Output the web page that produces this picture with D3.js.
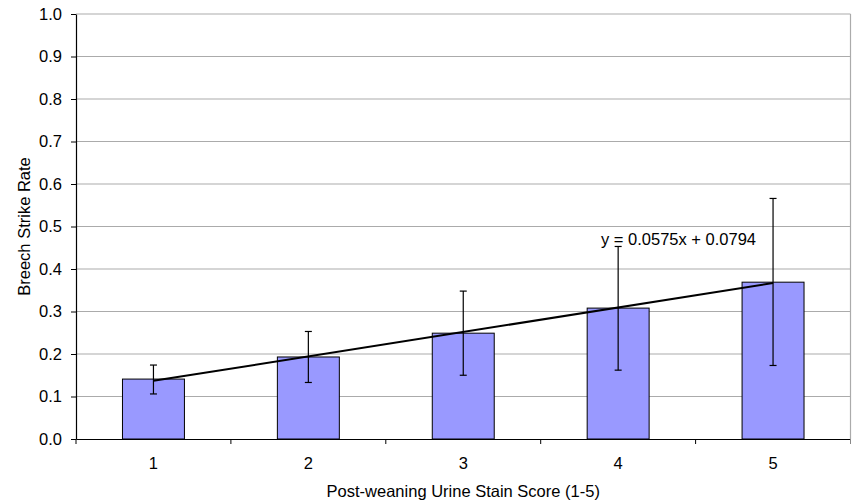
<!DOCTYPE html>
<html>
<head>
<meta charset="utf-8">
<script src="https://cdn.jsdelivr.net/npm/d3@7"></script>
<style>
  body { margin: 0; background: #fff; }
  text { font-family: "Liberation Sans", Arial, sans-serif; }
</style>
</head>
<body>
<svg id="chart"></svg>
<script>
// Data
const scores = ["1", "2", "3", "4", "5"];
const strikeRate = [0.141, 0.193, 0.249, 0.308, 0.369];
const errUpper = [0.174, 0.253, 0.348, 0.453, 0.566];
const errLower = [0.106, 0.133, 0.150, 0.162, 0.173];
const yTicks = [0.0, 0.1, 0.2, 0.3, 0.4, 0.5, 0.6, 0.7, 0.8, 0.9, 1.0];
const trendSlope = 0.0575;
const trendIntercept = 0.0794;

const width = 863;
const height = 502;
const margin = { top: 14, right: 12.5, bottom: 63, left: 76 };
const fontSize = "16.5px";

const svg = d3.select("#chart")
    .attr("width", width)
    .attr("height", height);

const x = d3.scaleBand()
    .domain(scores)
    .range([margin.left, width - margin.right])
    .padding(0);

const y = d3.scaleLinear()
    .domain([0, 1])
    .range([height - margin.bottom, margin.top]);

const barW = x.bandwidth() * 0.4;
const cx = d => x(d) + x.bandwidth() / 2;

// Gridlines
svg.append("g")
    .selectAll("line")
    .data(yTicks.filter(t => t > 0))
    .enter()
    .append("line")
    .attr("x1", margin.left)
    .attr("x2", width - margin.right)
    .attr("y1", d => y(d))
    .attr("y2", d => y(d))
    .attr("stroke", "#ababab")
    .attr("stroke-width", 1.2);

// Right border
svg.append("line")
    .attr("x1", width - margin.right)
    .attr("x2", width - margin.right)
    .attr("y1", y(1))
    .attr("y2", y(0))
    .attr("stroke", "#ababab")
    .attr("stroke-width", 1.2);

// Bars
svg.append("g")
    .selectAll("rect")
    .data(scores)
    .enter()
    .append("rect")
    .attr("x", d => cx(d) - barW / 2)
    .attr("y", (d, i) => y(strikeRate[i]))
    .attr("width", barW)
    .attr("height", (d, i) => y(0) - y(strikeRate[i]))
    .attr("fill", "#9999ff")
    .attr("stroke", "#000")
    .attr("stroke-width", 1);

// Trendline
svg.append("line")
    .attr("x1", cx(scores[0]))
    .attr("y1", y(trendSlope * 1 + trendIntercept))
    .attr("x2", cx(scores[4]))
    .attr("y2", y(trendSlope * 5 + trendIntercept))
    .attr("stroke", "#000")
    .attr("stroke-width", 2);

// Error bars
const eb = svg.append("g").attr("stroke", "#000").attr("stroke-width", 1.2);
scores.forEach((s, i) => {
    const c = cx(s);
    eb.append("line").attr("x1", c).attr("x2", c).attr("y1", y(errUpper[i])).attr("y2", y(errLower[i]));
    eb.append("line").attr("x1", c - 3.5).attr("x2", c + 3.5).attr("y1", y(errUpper[i])).attr("y2", y(errUpper[i]));
    eb.append("line").attr("x1", c - 3.5).attr("x2", c + 3.5).attr("y1", y(errLower[i])).attr("y2", y(errLower[i]));
});

// Y axis
const yAxis = svg.append("g")
    .attr("transform", `translate(${margin.left},0)`)
    .call(d3.axisLeft(y).tickValues(yTicks).tickFormat(d3.format(".1f")).tickSize(5).tickSizeOuter(0));
yAxis.select(".domain").attr("stroke", "#000").attr("stroke-width", 1.2);
yAxis.selectAll(".tick line").attr("stroke", "#000");
yAxis.selectAll(".tick text")
    .attr("x", -14)
    .style("font-size", fontSize)
    .style("font-family", "Liberation Sans, Arial, sans-serif")
    .attr("fill", "#000");

// X axis
const xAxis = svg.append("g")
    .attr("transform", `translate(0,${y(0)})`)
    .call(d3.axisBottom(x).tickSize(0).tickSizeOuter(0));
xAxis.select(".domain").attr("stroke", "#000").attr("stroke-width", 1.2);
xAxis.selectAll(".tick text")
    .attr("y", 30)
    .attr("dy", 0)
    .style("font-size", fontSize)
    .style("font-family", "Liberation Sans, Arial, sans-serif")
    .attr("fill", "#000");

// X tick marks between categories
svg.append("g")
    .selectAll("line")
    .data(scores)
    .enter()
    .append("line")
    .attr("x1", d => x(d))
    .attr("x2", d => x(d))
    .attr("y1", y(0))
    .attr("y2", y(0) + 5)
    .attr("stroke", "#000")
    .attr("stroke-width", 1);
svg.append("line")
    .attr("x1", width - margin.right)
    .attr("x2", width - margin.right)
    .attr("y1", y(0))
    .attr("y2", y(0) + 5)
    .attr("stroke", "#888");

// Equation label
svg.append("text")
    .attr("x", 601)
    .attr("y", 245)
    .style("font-size", fontSize)
    .text(`y = ${trendSlope}x + ${trendIntercept}`);

// Axis titles
svg.append("text")
    .attr("x", cx(scores[2]))
    .attr("y", 497)
    .attr("text-anchor", "middle")
    .style("font-size", fontSize)
    .text("Post-weaning Urine Stain Score (1-5)");

svg.append("text")
    .attr("transform", `translate(30,${y(0.5)}) rotate(-90)`)
    .attr("text-anchor", "middle")
    .style("font-size", fontSize)
    .text("Breech Strike Rate");
</script>
</body>
</html>
